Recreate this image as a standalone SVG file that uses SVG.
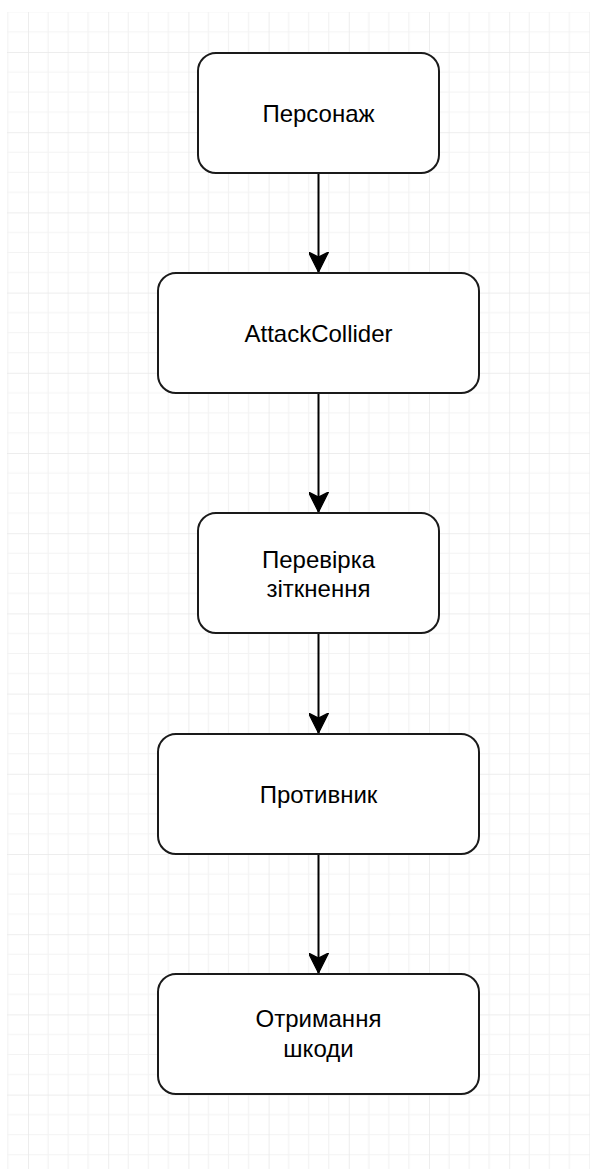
<svg xmlns="http://www.w3.org/2000/svg" width="590" height="1169" viewBox="0 0 590 1169">
<style>
.box{fill:#ffffff;stroke:#1a1a1a;stroke-width:2}
.lbl{font-family:"Liberation Sans",Arial,sans-serif;font-size:24px;fill:#000;text-anchor:middle}
.edge{stroke:#000;stroke-width:2;fill:none}
</style>
<defs>
<pattern id="grid" patternUnits="userSpaceOnUse" x="28" y="52" width="80.2" height="80.2">
<path d="M20.05 0V80.2M40.1 0V80.2M60.15 0V80.2M0 20.05H80.2M0 40.1H80.2M0 60.15H80.2" stroke="#f3f3f3" stroke-width="1.2" fill="none"/>
<path d="M0 0V80.2M0 0H80.2" stroke="#e8e8e8" stroke-width="1.5" fill="none"/>
</pattern>
<marker id="arr" markerUnits="userSpaceOnUse" markerWidth="20" markerHeight="20" refX="16" refY="8" orient="auto" viewBox="0 0 16 16">
<path d="M0 0L16 8L0 16L4 8Z" fill="#000" stroke="#000" stroke-width="1"/>
</marker>
</defs>
<rect x="0" y="0" width="590" height="1169" fill="#ffffff"/>
<rect x="7" y="12" width="583" height="1157" fill="url(#grid)"/>
<g id="connectors">
<line class="edge" x1="318.5" y1="173" x2="318.5" y2="272" marker-end="url(#arr)"/>
<line class="edge" x1="318.5" y1="393" x2="318.5" y2="512" marker-end="url(#arr)"/>
<line class="edge" x1="318.5" y1="633" x2="318.5" y2="733" marker-end="url(#arr)"/>
<line class="edge" x1="318.5" y1="854" x2="318.5" y2="973" marker-end="url(#arr)"/>
</g>
<g id="node-personazh">
<rect class="box" x="198" y="53" width="241" height="120" rx="18"/>
<text class="lbl" x="318.5" y="121.7">Персонаж</text>
</g>
<g id="node-attackcollider">
<rect class="box" x="158" y="273" width="321" height="120" rx="18"/>
<text class="lbl" x="318.5" y="342">AttackCollider</text>
</g>
<g id="node-perevirka">
<rect class="box" x="198" y="513" width="241" height="120" rx="18"/>
<text class="lbl" x="318.5" y="568.3">Перевірка</text>
<text class="lbl" x="318.5" y="596.7">зіткнення</text>
</g>
<g id="node-protyvnyk">
<rect class="box" x="158" y="734" width="321" height="120" rx="18"/>
<text class="lbl" x="318.5" y="802.5">Противник</text>
</g>
<g id="node-otrymannia">
<rect class="box" x="158" y="974" width="321" height="120" rx="18"/>
<text class="lbl" x="318.5" y="1027">Отримання</text>
<text class="lbl" x="318.5" y="1056.5">шкоди</text>
</g>
</svg>
